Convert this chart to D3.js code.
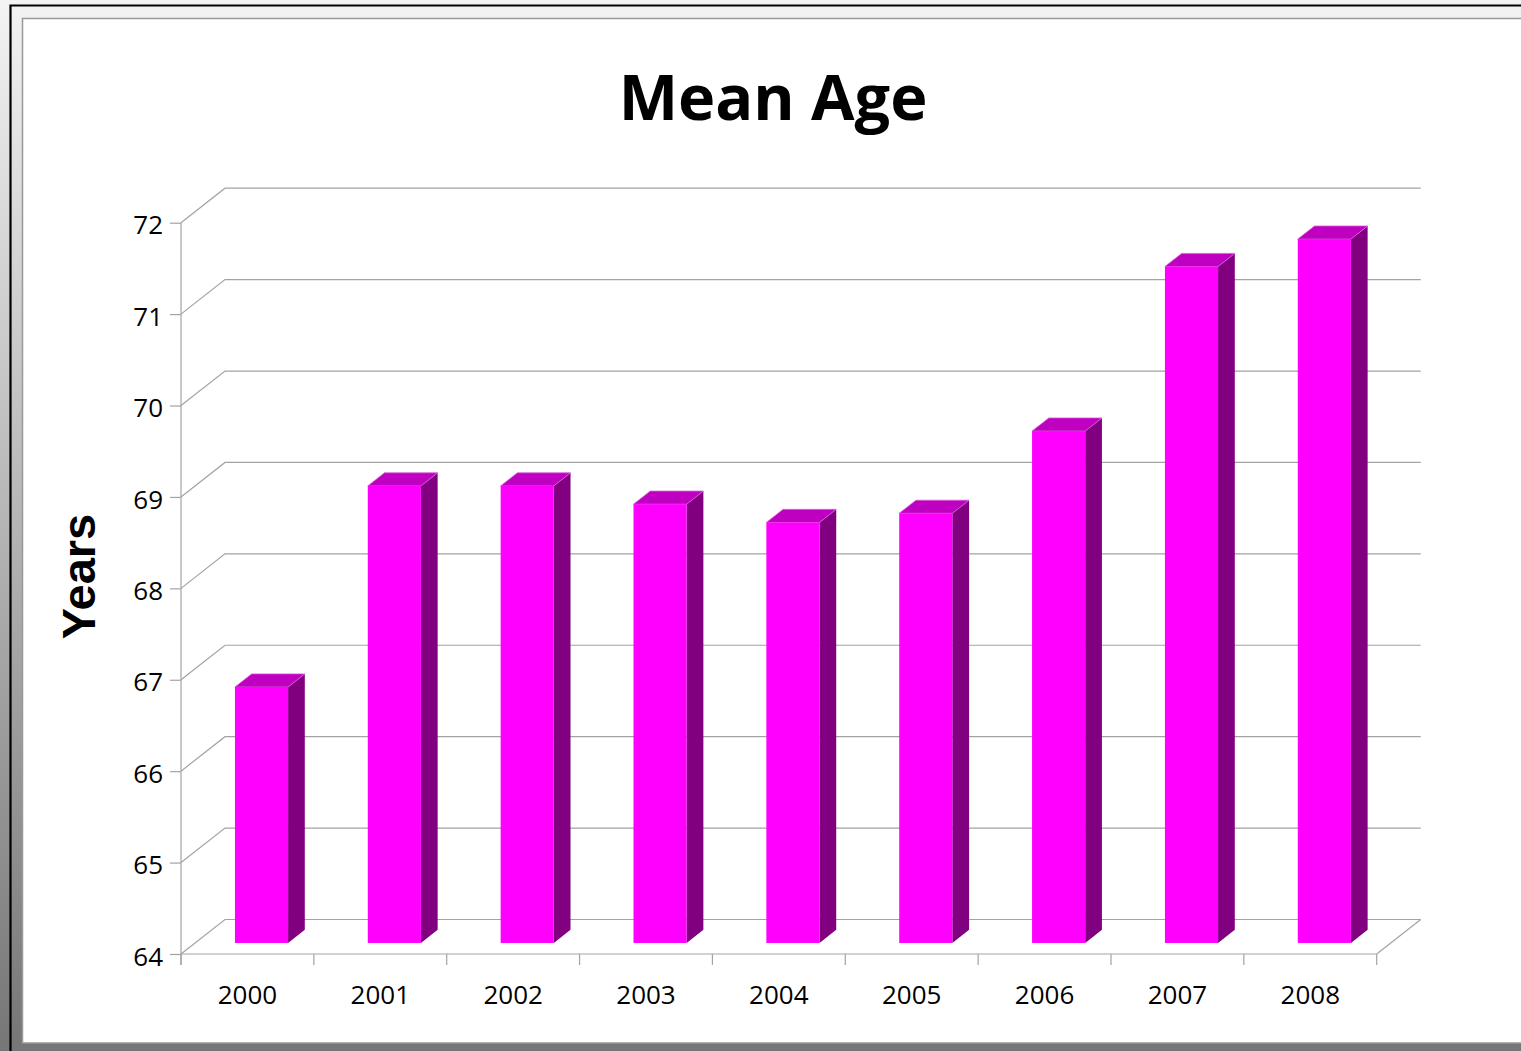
<!DOCTYPE html>
<html><head><meta charset="utf-8">
<script src="https://cdn.jsdelivr.net/npm/d3@7"></script>
<style>html,body{margin:0;padding:0;overflow:hidden;background:#fff}</style>
</head><body>
<script>
const years = ["2000","2001","2002","2003","2004","2005","2006","2007","2008"];
const meanAge = [66.8, 69.0, 69.0, 68.8, 68.6, 68.7, 69.6, 71.4, 71.7];
const yTicks = [64,65,66,67,68,69,70,71,72];
const title = "Mean Age";
const yTitle = "Years";

const W = 1521, H = 1051;
const svg = d3.select("body").append("svg").attr("width", W).attr("height", H);
const defs = svg.append("defs");
const g1 = defs.append("linearGradient").attr("id","bg").attr("x1",0).attr("y1",0).attr("x2",0).attr("y2",1);
g1.append("stop").attr("offset","0%").attr("stop-color","#f3f3f3");
g1.append("stop").attr("offset","100%").attr("stop-color","#767676");

svg.append("rect").attr("width",W).attr("height",H).attr("fill","url(#bg)");
// outer black frame
svg.append("path").attr("d",`M10.5,${H} V5.5 H${W}`).attr("fill","none").attr("stroke","#000").attr("stroke-width",2.2);
// white panel
svg.append("rect").attr("x",22.5).attr("y",18.5).attr("width",W).attr("height",1043-18.5).attr("fill","#fff").attr("stroke","#999").attr("stroke-width",1.5);

const x = d3.scaleBand().domain(years).range([181, 1376.7]);
const y = d3.scaleLinear().domain([64,72]).range([954, 222.7]);
const DX = 44, DY = -34.5;
const gridC = "#a3a3a3";

const grid = svg.append("g").attr("stroke",gridC).attr("stroke-width",1.2).attr("fill","none");
// back wall gridlines + left wall diagonals
yTicks.forEach(t => {
  const yy = y(t);
  grid.append("path").attr("d",`M${x.range()[0]},${yy} L${x.range()[0]+DX},${yy+DY} H${x.range()[1]+DX}`);
});
// floor
grid.append("path").attr("d",`M${x.range()[1]},${y(64)} L${x.range()[1]+DX},${y(64)+DY}`);
// front vertical axis line
grid.append("path").attr("d",`M${x.range()[0]},${y(72)} V${y(64)+11}`);
// front floor line
grid.append("path").attr("d",`M${x.range()[0]},${y(64)} H${x.range()[1]}`);
// x ticks at category boundaries
const bounds = years.map(d => x(d)).concat([x.range()[1]]);
bounds.forEach(b => grid.append("path").attr("d",`M${b},${y(64)} V${y(64)+11}`));

// y axis
const yAxis = svg.append("g").attr("transform",`translate(181,0)`)
  .call(d3.axisLeft(y).tickValues(yTicks).tickSize(11).tickPadding(7).tickFormat(d3.format("d")));
yAxis.select(".domain").remove();
yAxis.selectAll(".tick line").attr("stroke",gridC).attr("stroke-width",1.2);
yAxis.selectAll(".tick text").attr("font-family","'Open Sans'").attr("font-size",26).attr("fill","#000").attr("dy","0.62em").attr("y",-5);

// x axis labels
const xAxis = svg.append("g").attr("transform",`translate(0,${y(64)})`)
  .call(d3.axisBottom(x).tickSize(0).tickPadding(0));
xAxis.select(".domain").remove();
xAxis.selectAll(".tick text").attr("font-family","'Open Sans'").attr("font-size",26).attr("fill","#000").attr("dy",0).attr("y",50);
xAxis.selectAll(".tick line").remove();

// bars
const bw = x.bandwidth()*0.4;
const f0 = 0.32, f1 = 0.70;
const bars = svg.append("g");
years.forEach((yr, i) => {
  const v = meanAge[i];
  const x0 = x(yr) + (x.bandwidth()-bw)/2 + DX*f0;
  const x1 = x0 + bw;
  const yb = y(64) + DY*f0;
  const yt = y(v) + DY*f0;
  const ddx = DX*(f1-f0), ddy = DY*(f1-f0);
  // side
  bars.append("path").attr("d",`M${x1},${yb} L${x1},${yt} L${x1+ddx},${yt+ddy} L${x1+ddx},${yb+ddy} Z`).attr("fill","#800080");
  // top
  bars.append("path").attr("d",`M${x0},${yt} L${x0+ddx},${yt+ddy} L${x1+ddx},${yt+ddy} L${x1},${yt} Z`).attr("fill","#c000c0").attr("stroke","#d860d8").attr("stroke-width",0.8);
  // front
  bars.append("rect").attr("x",x0).attr("y",yt).attr("width",bw).attr("height",yb-yt).attr("fill","#ff00ff");
});

// titles
svg.append("text").attr("x",773).attr("y",120).attr("text-anchor","middle")
  .attr("font-family","'Open Sans'").attr("font-weight","bold").attr("font-size",63).attr("fill","#000").text(title);
svg.append("text").attr("transform","translate(95,576.5) rotate(-90)").attr("text-anchor","middle")
  .attr("font-family","'Liberation Sans', Arial").attr("font-weight","bold").attr("font-size",47).attr("fill","#000").text(yTitle);
</script>
</body></html>
